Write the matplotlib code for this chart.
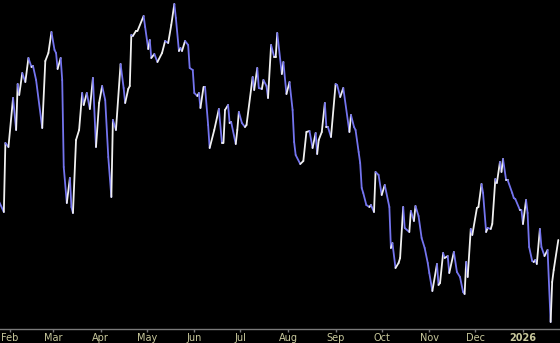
#!/usr/bin/env python3
# plot.py
# Close-only price line on black, white when rising, blue when falling.

import numpy as np
import pandas as pd
import matplotlib
matplotlib.use("Agg")
import matplotlib.pyplot as plt
import matplotlib.dates as mdates
from matplotlib.collections import LineCollection


# Vertices
DATES = [
    "2025-01-25", "2025-01-28", "2025-01-29", "2025-01-31", "2025-02-03", "2025-02-05",
    "2025-02-06", "2025-02-07", "2025-02-09", "2025-02-11", "2025-02-13", "2025-02-15",
    "2025-02-16", "2025-02-18", "2025-02-22", "2025-02-24", "2025-02-26", "2025-02-28",
    "2025-03-02", "2025-03-03", "2025-03-04", "2025-03-06", "2025-03-07", "2025-03-08",
    "2025-03-10", "2025-03-12", "2025-03-13", "2025-03-14", "2025-03-16", "2025-03-18",
    "2025-03-20", "2025-03-21", "2025-03-23", "2025-03-25", "2025-03-27", "2025-03-29",
    "2025-03-31", "2025-04-02", "2025-04-04", "2025-04-06", "2025-04-08", "2025-04-09",
    "2025-04-11", "2025-04-14", "2025-04-16", "2025-04-17", "2025-04-19", "2025-04-20",
    "2025-04-21", "2025-04-22", "2025-04-24", "2025-04-25", "2025-04-29", "2025-04-30",
    "2025-05-02", "2025-05-03", "2025-05-04", "2025-05-06", "2025-05-08", "2025-05-11",
    "2025-05-13", "2025-05-15", "2025-05-17", "2025-05-19", "2025-05-20", "2025-05-22",
    "2025-05-23", "2025-05-24", "2025-05-26", "2025-05-28", "2025-05-29", "2025-05-31",
    "2025-06-01", "2025-06-03", "2025-06-04", "2025-06-05", "2025-06-07", "2025-06-08",
    "2025-06-10", "2025-06-11", "2025-06-14", "2025-06-17", "2025-06-19", "2025-06-20",
    "2025-06-21", "2025-06-23", "2025-06-24", "2025-06-25", "2025-06-28", "2025-06-29",
    "2025-06-30", "2025-07-02", "2025-07-04", "2025-07-05", "2025-07-09", "2025-07-10",
    "2025-07-12", "2025-07-13", "2025-07-15", "2025-07-16", "2025-07-18", "2025-07-19",
    "2025-07-21", "2025-07-23", "2025-07-24", "2025-07-25", "2025-07-28", "2025-07-29",
    "2025-07-31", "2025-08-02", "2025-08-04", "2025-08-05", "2025-08-06", "2025-08-09",
    "2025-08-11", "2025-08-13", "2025-08-15", "2025-08-17", "2025-08-19", "2025-08-20",
    "2025-08-21", "2025-08-23", "2025-08-25", "2025-08-26", "2025-08-27", "2025-08-29",
    "2025-09-01", "2025-09-02", "2025-09-04", "2025-09-06", "2025-09-10", "2025-09-11",
    "2025-09-13", "2025-09-14", "2025-09-16", "2025-09-17", "2025-09-18", "2025-09-19",
    "2025-09-21", "2025-09-23", "2025-09-24", "2025-09-26", "2025-09-27", "2025-09-29",
    "2025-10-01", "2025-10-03", "2025-10-06", "2025-10-07", "2025-10-08", "2025-10-10",
    "2025-10-12", "2025-10-13", "2025-10-15", "2025-10-16", "2025-10-19", "2025-10-20",
    "2025-10-22", "2025-10-23", "2025-10-25", "2025-10-27", "2025-10-29", "2025-10-31",
    "2025-11-01", "2025-11-03", "2025-11-06", "2025-11-07", "2025-11-08", "2025-11-10",
    "2025-11-11", "2025-11-13", "2025-11-14", "2025-11-17", "2025-11-19", "2025-11-21",
    "2025-11-23", "2025-11-24", "2025-11-25", "2025-11-26", "2025-11-28", "2025-11-29",
    "2025-12-02", "2025-12-03", "2025-12-05", "2025-12-06", "2025-12-08", "2025-12-09",
    "2025-12-11", "2025-12-12", "2025-12-14", "2025-12-15", "2025-12-17", "2025-12-18",
    "2025-12-19", "2025-12-21", "2025-12-22", "2025-12-25", "2025-12-26", "2025-12-27",
    "2025-12-30", "2025-12-31", "2026-01-01", "2026-01-03", "2026-01-04", "2026-01-05",
    "2026-01-07", "2026-01-08", "2026-01-09", "2026-01-10", "2026-01-12", "2026-01-13",
    "2026-01-15", "2026-01-17", "2026-01-19", "2026-01-20", "2026-01-21", "2026-01-24",
]

CLOSE = [
    13.8, 12.8, 19.7, 19.3, 24.2, 21.0,
    25.6, 24.5, 26.7, 25.8, 28.2, 27.3,
    27.4, 26.0, 21.2, 27.9, 28.7, 30.8,
    29.0, 28.7, 27.1, 28.2, 26.0, 17.3,
    13.7, 16.2, 13.3, 12.7, 20.0, 21.0,
    24.7, 23.5, 24.7, 23.1, 26.2, 19.3,
    23.7, 25.4, 24.0, 18.3, 14.3, 22.0,
    21.0, 27.6, 25.2, 23.7, 25.1, 25.4,
    30.5, 30.4, 30.9, 30.9, 32.4, 31.3,
    29.1, 30.0, 28.2, 28.6, 27.8, 28.7,
    29.9, 29.7, 31.5, 33.6, 32.2, 28.9,
    29.2, 28.9, 29.9, 29.5, 27.2, 27.0,
    24.7, 24.4, 24.7, 23.2, 25.3, 25.3,
    21.5, 19.2, 21.0, 23.1, 19.7, 19.7,
    23.0, 23.5, 21.7, 21.8, 19.6, 21.0,
    22.8, 21.7, 21.3, 21.5, 26.3, 25.0,
    27.2, 25.2, 25.1, 26.0, 25.4, 24.2,
    29.5, 28.3, 28.3, 30.7, 26.6, 27.8,
    24.6, 25.8, 23.0, 19.8, 18.5, 17.6,
    17.9, 20.8, 20.9, 19.2, 20.7, 18.6,
    20.0, 20.8, 23.7, 21.3, 21.3, 20.3,
    25.6, 25.5, 24.3, 25.2, 20.8, 22.5,
    21.3, 21.0, 18.8, 17.7, 15.2, 14.7,
    13.5, 13.3, 13.5, 12.8, 16.8, 16.5,
    14.5, 15.5, 13.3, 9.2, 9.7, 7.2,
    7.7, 8.2, 13.3, 11.2, 10.8, 12.9,
    11.9, 13.4, 12.4, 10.2, 9.2, 7.7,
    6.7, 4.9, 7.6, 5.5, 5.7, 8.7,
    8.2, 8.4, 6.7, 8.8, 6.8, 6.3,
    4.8, 4.6, 7.8, 6.3, 11.1, 10.5,
    13.2, 13.3, 15.6, 14.7, 10.8, 11.2,
    11.1, 11.6, 16.1, 15.7, 17.8, 16.8,
    18.1, 16.0, 16.0, 14.7, 14.2, 14.1,
    13.0, 13.0, 11.6, 14.0, 12.7, 9.3,
    7.9, 7.8, 8.0, 7.6, 11.1, 9.3,
    8.4, 9.0, 1.8, 5.8, 7.0, 10.0,
]

TICK_DATES = ["2025-02-01", "2025-03-01", "2025-04-01", "2025-05-01", "2025-06-01",
              "2025-07-01", "2025-08-01", "2025-09-01", "2025-10-01", "2025-11-01",
              "2025-12-01", "2026-01-01"]
TICK_LABELS = ["Feb", "Mar", "Apr", "May", "Jun", "Jul", "Aug", "Sep", "Oct", "Nov",
               "Dec", "2026"]

UP_COLOR = "#f0f0f0"
DOWN_COLOR = "#7474ee"
LABEL_COLOR = "#c8c89c"
AXIS_COLOR = "#7a7a7a"


x = mdates.date2num(pd.to_datetime(DATES))
y = np.array(CLOSE)

fig = plt.figure(figsize=(5.6, 3.43), dpi=100, facecolor="black")
ax = fig.add_axes([0, 14 / 343, 1, 329 / 343], facecolor="black")

# one segment per step, coloured by direction
pts = np.column_stack([x, y]).reshape(-1, 1, 2)
segs = np.concatenate([pts[:-1], pts[1:]], axis=1)
colors = [UP_COLOR if b >= a else DOWN_COLOR for a, b in zip(y[:-1], y[1:])]
lc = LineCollection(segs, colors=colors, linewidths=1.3, capstyle="round", joinstyle="round")
ax.add_collection(lc)

start = mdates.date2num(pd.Timestamp("2025-02-01"))
ax.set_xlim(start - 6.5, start + 358.1)
ax.set_ylim(1.1, 34.0)

ax.set_xticks(mdates.date2num(pd.to_datetime(TICK_DATES)))
ax.set_xticklabels(TICK_LABELS)
ax.set_yticks([])
ax.tick_params(axis="x", direction="out", length=2, width=1, color=AXIS_COLOR,
               labelcolor=LABEL_COLOR, labelsize=7, pad=1)
for lbl in ax.get_xticklabels():
    if lbl.get_text() == "2026":
        lbl.set_fontweight("bold")

for side in ["top", "left", "right"]:
    ax.spines[side].set_visible(False)
ax.spines["bottom"].set_color(AXIS_COLOR)
ax.spines["bottom"].set_linewidth(1)

fig.savefig("out.png", dpi=100, facecolor="black")
